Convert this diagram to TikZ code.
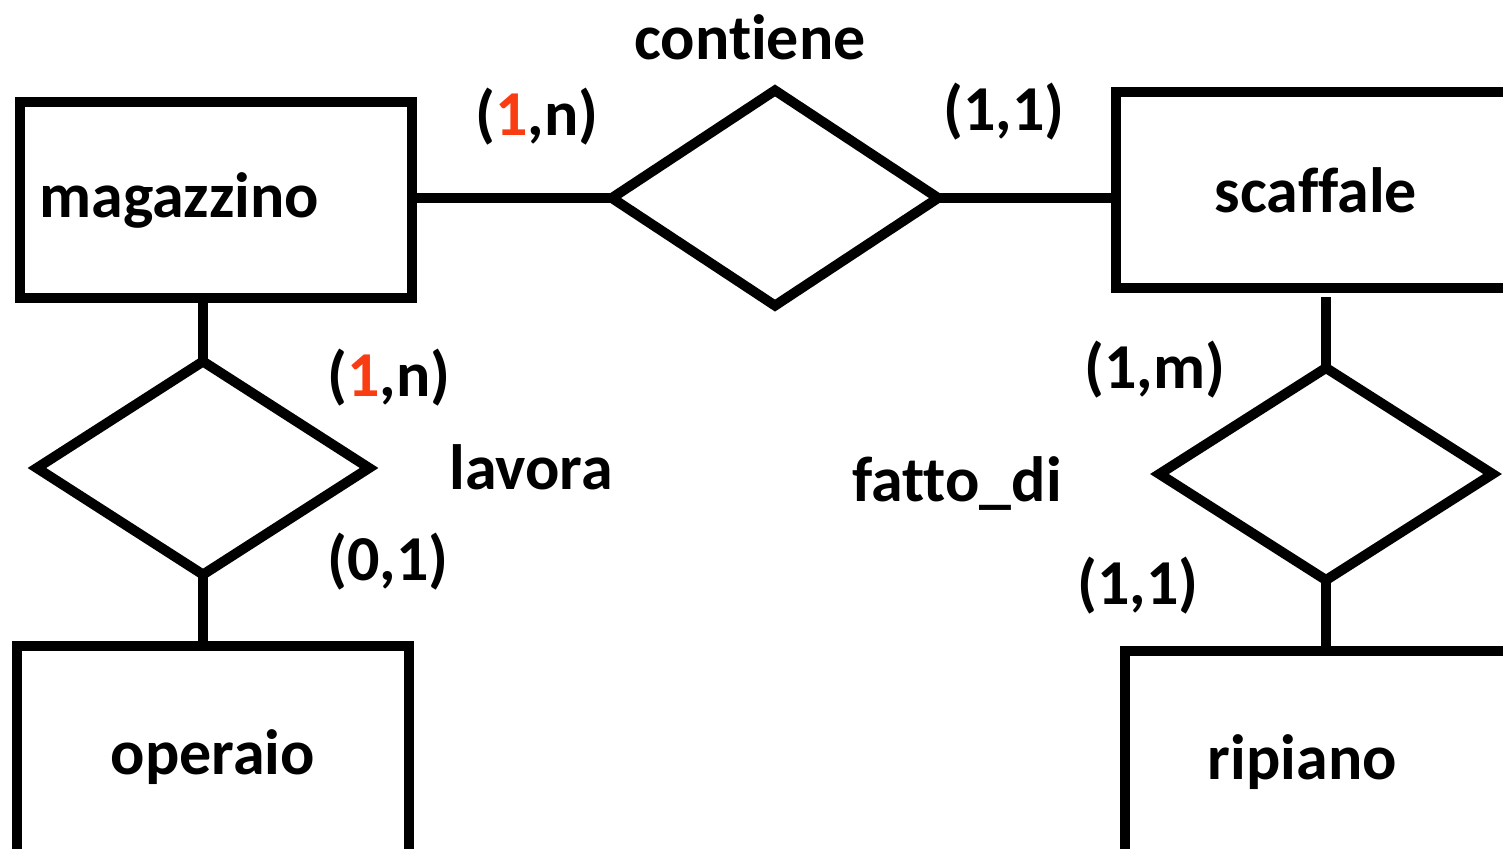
\documentclass[tikz,border=0pt]{standalone}
\usepackage{fontspec}
\setmainfont[Ligatures=NoCommon]{Carlito}
\usepackage{xcolor}
\usetikzlibrary{shapes.geometric}
\definecolor{cardred}{HTML}{FA3C12}

\tikzset{
  entity/.style={draw, rectangle, line width=0.1cm, minimum width=3.92cm, minimum height=1.96cm},
  relation/.style={draw, diamond, line width=0.1cm, inner sep=0pt, outer sep=0pt},
  lbl/.style={font=\fontsize{18.2}{21}\selectfont\bfseries},
  link/.style={line width=0.1cm}
}

\begin{document}
\begin{tikzpicture}[x=0.01cm,y=-0.01cm]
      % picture frame
      \useasboundingbox (0,0) rectangle (1503,848);

      % entities
      \node[entity, lbl, text width=3.53cm, align=left, inner xsep=0.19cm] (magazzino) at (216,200) {magazzino};
      \node[entity, lbl, minimum width=4.00cm] (scaffale) at (1316,190) {scaffale};
      \node[entity, lbl, minimum height=2.22cm] (operaio) at (213,757) {operaio};
      \node[entity, lbl, minimum height=2.22cm, text width=2.34cm, align=left, inner xsep=0.83cm] (ripiano) at (1325,762) {ripiano};

      % relationships
      \node[relation, minimum width=3.26cm, minimum height=2.15cm] (contiene) at (775,198) {};
      \node[relation, minimum width=3.32cm, minimum height=2.13cm] (lavora) at (203,468) {};
      \node[relation, minimum width=3.33cm, minimum height=2.12cm] (fattodi) at (1326,474) {};

      % relationship names
      \node[lbl] (contieneName) at (750,37) {contiene};
      \node[lbl] (lavoraName) at (531,467) {lavora};
      \node[lbl] (fattodiName) at (957,484) {fatto\_di};

      % cardinalities
      \node[lbl] (cardMC) at (537,117) {(\textcolor{cardred}{1},n)};
      \node[lbl] (cardSC) at (1004,112) {(1,1)};
      \node[lbl] (cardML) at (389,378) {(\textcolor{cardred}{1},n)};
      \node[lbl] (cardOL) at (388,562) {(0,1)};
      \node[lbl] (cardSF) at (1155,370) {(1,m)};
      \node[lbl] (cardRF) at (1138,586) {(1,1)};

      % connectors
      \draw[link] (contiene.west) -- (contiene.west -| magazzino.east);
      \draw[link] (contiene.east) -- (contiene.east -| scaffale.west);
      \draw[link] (lavora.north) -- (lavora.north |- magazzino.south);
      \draw[link] (lavora.south) -- (lavora.south |- operaio.north);
      \draw[link, shorten >=0.04cm] (fattodi.north) -- (fattodi.north |- scaffale.south);
      \draw[link] (fattodi.south) -- (fattodi.south |- ripiano.north);
\end{tikzpicture}
\end{document}
